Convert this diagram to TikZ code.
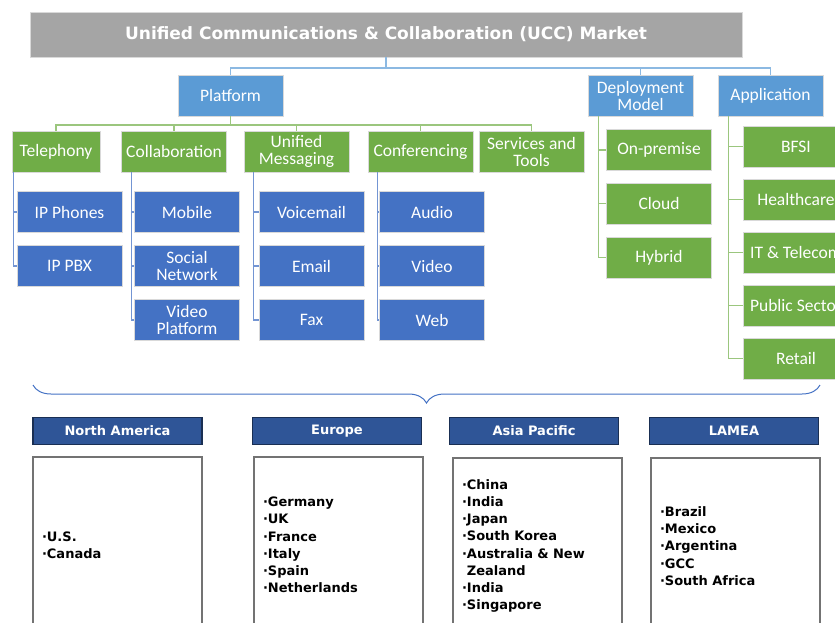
\documentclass[tikz,border=0pt]{standalone}
\usepackage{fontspec}
\usepackage{tikz}
\usetikzlibrary{decorations.pathreplacing}
\newfontfamily\boxfont{Carlito}
\newfontfamily\headfont{DejaVu Sans}

\definecolor{titlegray}{HTML}{A5A5A5}
\definecolor{midblue}{HTML}{5B9BD5}
\definecolor{leafblue}{HTML}{4472C4}
\definecolor{leafgreen}{HTML}{70AD47}
\definecolor{darkblue}{HTML}{2F5597}

\tikzset{basic/.style={draw=white!85!black,line width=0.6pt,text=white,align=center,
                       inner sep=0pt,minimum width=105pt,minimum height=41pt,
                       font=\boxfont\fontsize{17.5}{17}\selectfont}}
\tikzset{segment/.style={basic,fill=midblue}}
\tikzset{group/.style={basic,fill=leafgreen}}
\tikzset{leaf/.style={basic,fill=leafblue}}
\tikzset{region/.style={draw=darkblue!55!black,line width=1.2pt,fill=darkblue,text=white,
                        minimum width=169pt,minimum height=27pt,inner sep=0pt,
                        font=\headfont\bfseries\fontsize{13}{15}\selectfont}}
\tikzset{countries/.style={draw=black!55,line width=1.5pt,fill=white,align=left,
                        text width=151pt,inner xsep=9pt,minimum height=176pt,
                        font=\headfont\bfseries\fontsize{13}{17.2}\selectfont}}
\tikzset{topline/.style={draw=midblue!70,line width=1.4pt}}
\tikzset{greenline/.style={draw=leafgreen!70,line width=1.4pt}}
\tikzset{leafline/.style={draw=leafblue!75,line width=1.4pt}}

\begin{document}
\begin{tikzpicture}[x=1pt,y=-1pt]
    \useasboundingbox (0,0) rectangle (835,622);
    \clip (0,0) rectangle (835,622);

    % market
    \node[basic,fill=titlegray,minimum width=712pt,minimum height=45pt,
          font=\headfont\bfseries\fontsize{17}{19}\selectfont] (ucc) at (386,34.5)
          {Unified Communications \& Collaboration (UCC) Market};

    % segments
    \node[segment] (platform) at (230.5,95.5) {Platform};
    \node[segment] (deploy) at (640.5,95.5) {Deployment\\Model};
    \node[segment] (app) at (770.5,95.5) {Application};

    \coordinate (split) at (386,68);
    \foreach \n in {platform,deploy,app}{
        \draw[topline] (ucc.south) -- (split) -| (\n.north);
    }

    % platform groups
    \node[group,minimum width=88pt] (tel) at (56,151.5) {Telephony};
    \node[group] (col) at (174,151.5) {Collaboration};
    \node[group] (msg) at (296.5,151.5) {Unified\\Messaging};
    \node[group] (conf) at (420.5,151.5) {Conferencing};
    \node[group] (serv) at (531.5,151.5) {Services and\\Tools};

    \coordinate (pfork) at (230.5,125);
    \foreach \n in {tel,col,msg,conf,serv}{
        \draw[greenline] (platform.south) -- (pfork) -| (\n.north);
    }

    % leaves of the platform groups
    \foreach \t [count=\i] in {IP Phones,IP PBX}{
        \node[leaf] (tel\i) at (69.5,158+54*\i) {\t};
    }
    \foreach \t [count=\i] in {Mobile,Social\\Network,Video\\Platform}{
        \node[leaf] (col\i) at (187,158+54*\i) {\t};
    }
    \foreach \t [count=\i] in {Voicemail,Email,Fax}{
        \node[leaf] (msg\i) at (311.5,158+54*\i) {\t};
    }
    \foreach \t [count=\i] in {Audio,Video,Web}{
        \node[leaf] (conf\i) at (432,158+54*\i) {\t};
    }
    \foreach \g/\dx/\n in {tel/2/2,col/10/3,msg/10/3,conf/10/3}{
        \foreach \i in {1,...,\n}{
            \draw[leafline] ([xshift=\dx pt]\g.south west) |- (\g\i.west);
        }
    }

    % deployment model
    \foreach \t [count=\i] in {On-premise,Cloud,Hybrid}{
        \node[group] (dep\i) at (659,96.25+53.75*\i) {\t};
        \draw[greenline] ([xshift=11pt]deploy.south west) |- (dep\i.west);
    }

    % application
    \foreach \t [count=\i] in {BFSI,Healthcare,IT \& Telecom,Public Sector,Retail}{
        \node[group] (app\i) at (796,93.5+53*\i) {\t};
        \draw[greenline] ([xshift=11pt]app.south west) |- (app\i.west);
    }

    % regions
    \coordinate (bl) at (33,385);
    \coordinate (br) at (820,385);
    \draw[leafblue,line width=1pt,decorate,decoration={brace,mirror,amplitude=18pt}] (bl) -- (br);

    \foreach \r/\x [count=\i] in {North America/117.5,Europe/337,Asia Pacific/534,LAMEA/734}{
        \node[region] (reg\i) at (\x,431) {\r};
    }
    \node[countries] (list1) at (117.5,545) {·U.S.\\·Canada};
    \node[countries] (list2) at (338.5,545)
        {·Germany\\·UK\\·France\\·Italy\\·Spain\\·Netherlands};
    \node[countries] (list3) at (537.5,546)
        {·China\\·India\\·Japan\\·South Korea\\·Australia \& New\\\phantom{·}Zealand\\·India\\·Singapore};
    \node[countries] (list4) at (735.5,546)
        {·Brazil\\·Mexico\\·Argentina\\·GCC\\·South Africa};
\end{tikzpicture}
\end{document}
